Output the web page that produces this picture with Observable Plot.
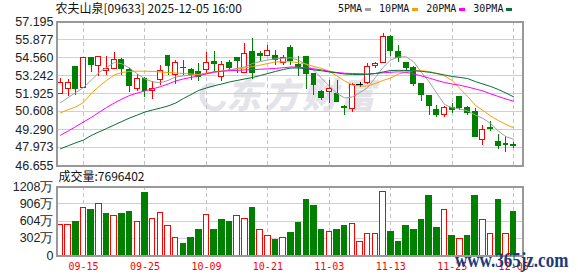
<!DOCTYPE html>
<html>
<head>
<meta charset="utf-8">
<script src="https://cdn.jsdelivr.net/npm/d3@7"></script>
<script src="https://cdn.jsdelivr.net/npm/@observablehq/plot@0.6"></script>
<style>
  html, body { margin: 0; padding: 0; background: #fff; }
  #chart { position: relative; width: 578px; height: 276px; overflow: hidden; background: #fff; }
  #chart > * { position: absolute; }
  #watermark { left: 226px; top: 72px; font-family: "Noto Sans CJK SC", sans-serif; font-size: 35px; line-height: 42px; font-weight: 900; font-style: italic; letter-spacing: 3px; color: #e3e3e9; white-space: nowrap; z-index: 0; }
  #logo { left: 200px; top: 82px; width: 16px; height: 20px; border: 5px solid #e3e3e9; border-right-color: transparent; border-radius: 50%; z-index: 0; transform: rotate(-30deg); }
  #legend { left: 338px; top: 3px; z-index: 2; display: flex; align-items: center; font: 10px/12px "DejaVu Sans Mono", monospace; color: #111; white-space: nowrap; }
  #legend .sw { display: inline-block; width: 6px; height: 3px; margin: 0 8px 0 3px; }
  #site { left: 455px; top: 250px; z-index: 3; font: bold 20px/20px "Liberation Serif", serif; color: #1c3a7a; transform: scaleX(0.85); transform-origin: 0 0; white-space: nowrap; }
</style>
</head>
<body>
<div id="chart"></div>
<script>
// ---------- data ----------
const stockName = "农夫山泉";
const stockCode = "09633";
const stamp = "2025-12-05 16:00";

const dates = ["09-10","09-11","09-12","09-15","09-16","09-17","09-18","09-19","09-22","09-23",
  "09-24","09-25","09-26","09-29","09-30","10-02","10-03","10-06","10-08","10-09",
  "10-10","10-13","10-14","10-15","10-16","10-17","10-20","10-21","10-22","10-23",
  "10-24","10-27","10-28","10-30","10-31","11-03","11-04","11-05","11-06","11-07",
  "11-10","11-11","11-12","11-13","11-14","11-17","11-18","11-19","11-20","11-21",
  "11-24","11-25","11-26","11-27","11-28","12-01","12-02","12-03","12-04","12-05"];

const open = [51.90,52.27,53.90,52.31,54.49,53.95,53.56,53.70,54.41,53.63,
  52.24,53.02,52.14,52.90,54.66,53.27,53.81,53.68,53.51,53.63,
  54.25,53.15,54.19,54.49,53.44,54.98,54.85,54.66,54.68,54.17,
  55.22,53.99,54.61,53.32,52.00,52.05,51.90,50.97,50.78,52.55,
  52.66,53.95,54.17,56.07,54.93,54.17,53.81,52.61,51.76,50.75,
  50.34,50.83,51.68,50.88,50.59,48.51,49.42,48.39,48.26,48.14];
const high = [53.02,52.95,53.92,54.56,54.54,54.66,54.61,54.93,54.49,53.75,
  53.34,53.07,52.83,53.95,54.73,54.32,54.32,53.75,54.12,54.90,
  55.02,54.25,54.36,54.49,55.61,55.95,54.98,55.42,55.05,54.68,
  55.42,54.61,54.61,53.39,52.17,52.88,52.85,51.02,52.66,52.70,
  54.12,54.17,56.32,56.15,55.42,54.17,53.88,52.61,51.76,51.02,
  50.97,51.19,51.73,50.95,50.83,49.56,49.86,48.92,48.76,48.32];
const low = [51.85,51.68,51.76,52.26,53.44,53.15,53.27,53.65,53.22,52.00,
  52.05,51.65,51.51,52.53,53.27,52.61,53.27,52.90,52.83,53.39,
  53.51,52.83,53.51,53.39,53.40,52.95,54.25,54.62,53.95,53.99,
  53.99,53.15,52.24,51.80,51.43,51.19,51.27,50.29,50.51,52.36,
  52.60,53.76,54.12,54.61,54.19,53.51,52.46,51.32,50.34,50.17,
  50.17,50.46,50.66,50.34,48.68,48.14,49.12,47.83,47.58,47.90];
const close = [52.71,52.73,52.29,54.49,54.00,54.61,53.70,54.36,53.70,52.46,
  53.02,52.09,52.29,53.59,53.95,54.19,53.76,53.27,53.10,54.19,
  54.12,53.99,53.76,54.32,54.85,53.39,54.66,55.05,54.41,54.49,
  54.29,53.88,53.32,52.53,51.63,52.29,51.32,50.90,52.53,52.55,
  53.88,54.05,56.07,55.05,54.54,53.81,52.61,51.80,51.02,50.34,
  50.83,50.70,50.83,50.51,48.76,49.29,49.31,48.07,48.14,48.07];

const ma5 = [51.25,51.63,52.00,52.36,52.90,53.46,53.83,54.19,54.10,53.79,
  53.35,52.99,52.78,52.71,52.88,53.13,53.22,53.27,53.29,53.35,
  53.46,53.57,53.65,53.76,53.87,54.12,54.27,54.38,54.47,54.50,
  54.54,54.36,54.05,53.61,53.04,52.47,51.93,51.60,51.67,52.00,
  52.36,53.10,53.83,54.38,54.60,54.61,54.23,53.46,52.78,51.93,
  51.12,50.88,50.79,50.65,50.35,50.10,49.73,49.18,48.76,48.58];
const ma10 = [50.51,50.75,50.94,51.27,51.93,52.44,52.88,53.28,53.46,53.54,
  53.56,53.56,53.54,53.50,53.46,53.43,53.39,53.35,53.32,53.43,
  53.51,53.57,53.65,53.72,53.79,53.90,54.00,54.12,54.23,54.25,
  54.25,54.17,54.08,53.90,53.76,53.54,53.21,52.84,52.55,52.47,
  52.47,52.66,52.88,53.06,53.35,53.50,53.61,53.59,53.54,53.39,
  53.21,52.88,52.29,51.71,51.07,50.68,50.28,49.95,49.66,49.42];
const ma20 = [48.87,49.18,49.51,49.84,50.17,50.54,50.90,51.23,51.52,51.78,
  51.96,52.12,52.26,52.42,52.62,52.84,52.99,53.10,53.22,53.37,
  53.51,53.55,53.59,53.62,53.65,53.67,53.70,53.73,53.76,53.81,
  53.87,53.85,53.79,53.73,53.65,53.54,53.46,53.41,53.39,53.37,
  53.35,53.39,53.44,53.48,53.51,53.48,53.35,53.21,53.06,52.88,
  52.73,52.62,52.53,52.40,52.26,52.11,51.90,51.71,51.52,51.36];
const ma30 = [47.88,48.10,48.32,48.52,48.85,49.11,49.36,49.62,49.88,50.13,
  50.35,50.57,50.72,50.86,51.01,51.23,51.56,51.85,52.15,52.33,
  52.49,52.62,52.77,52.88,52.99,53.10,53.24,53.39,53.54,53.68,
  53.79,53.79,53.73,53.65,53.59,53.50,53.43,53.35,53.32,53.32,
  53.33,53.39,53.50,53.61,53.62,53.61,53.59,53.55,53.48,53.39,
  53.28,53.17,53.10,53.02,52.80,52.62,52.44,52.22,51.96,51.68];

const volume = [5400000,5380000,5950000,8350000,7880000,9050000,7180000,6950000,7180000,7700000,
  5780000,10910000,6420000,7470000,5190000,3090000,1930000,2980000,4380000,7120000,
  4550000,6300000,5950000,6950000,6420000,8230000,4490000,3440000,2630000,3090000,
  3900000,5660000,9630000,8750000,4550000,4200000,4550000,5250000,5430000,2450000,
  3680000,3680000,11200000,4080000,2330000,5250000,4550000,6130000,10380000,4780000,
  7880000,3500000,2920000,3500000,10500000,6250000,3680000,9800000,3800000,7696402];

const priceTicks = [57.195,55.877,54.560,53.242,51.925,50.608,49.290,47.973,46.655];
const volumeTicks = [0,3020000,6040000,9060000,12080000];
const dateTicks = ["09-15","09-25","10-09","10-21","11-03","11-13","11-25","12-05"];

const maLabels = ["5PMA","10PMA","20PMA","30PMA"];
const maColors = ["#a0a0a0","#f5a000","#ff00ff","#0a6e36"];
const maSeries = [ma5, ma10, ma20, ma30];

// ---------- build ----------
const RED = "#ff0000", GREEN = "#008000";
const n = dates.length;
const rows = d3.range(n).map(i => ({i, date: dates[i], open: open[i], high: high[i], low: low[i], close: close[i], volume: volume[i]}));
const candleColor = r => r.close > r.open ? RED : r.close < r.open ? GREEN : "#000";
const volUp = r => r.i === 0 ? r.close >= r.open : r.close >= close[r.i - 1];
const tickIdx = dateTicks.map(d => dates.indexOf(d));
const xScale = {type: "linear", domain: [-0.52, 60.15], axis: null};
const crisp = {shapeRendering: "crispEdges"};
const svgStyle = {background: "transparent", overflow: "visible"};

const chart = document.getElementById("chart");

// watermark
const logo = document.createElement("div");
logo.id = "logo";
chart.appendChild(logo);
const wm = document.createElement("div");
wm.id = "watermark";
wm.textContent = "东方财富";
chart.appendChild(wm);

const mainPlot = Plot.plot({
  width: 578, height: 172,
  marginLeft: 56, marginRight: 56, marginTop: 21, marginBottom: 7,
  x: xScale,
  y: {domain: [priceTicks[priceTicks.length - 1], priceTicks[0]], axis: null},
  color: {type: "identity"},
  style: svgStyle,
  marks: [
    Plot.ruleY(priceTicks.slice(1, -1), {stroke: "#d0d0d0", ...crisp}),
    Plot.ruleX(tickIdx, {stroke: "#c4c4c4", strokeDasharray: "4,3", ...crisp}),
    Plot.ruleX(rows, {x: "i", y1: "low", y2: "high", stroke: candleColor, ...crisp}),
    Plot.rect(rows.filter(r => r.open !== r.close), {
      x1: r => r.i - 0.32, x2: r => r.i + 0.32, y1: "open", y2: "close",
      fill: r => r.close > r.open ? "#ffffff" : candleColor(r), stroke: candleColor, ...crisp
    }),
    Plot.ruleY(rows.filter(r => r.open === r.close), {
      y: "close", x1: r => r.i - 0.42, x2: r => r.i + 0.42, stroke: "#000", ...crisp
    }),
    ...maSeries.map((s, k) => Plot.line(s, {x: (d, i) => i, y: d => d, stroke: maColors[k], strokeWidth: 1})),
    Plot.frame({stroke: "#999", strokeWidth: 2, ...crisp}),
    Plot.text(priceTicks, {y: d => d, text: d => d.toFixed(3), frameAnchor: "left", dx: -3, textAnchor: "end",
      fontSize: 12.5, fontFamily: "Liberation Sans", fill: "#222"}),
    Plot.text([`${stockName}[${stockCode}] ${stamp}`], {frameAnchor: "top-left", dx: -1, dy: -12.5, lineAnchor: "middle",
      textAnchor: "start", fontSize: 12, fontFamily: "Noto Sans CJK SC", fill: "#111"})
  ]
});
mainPlot.style.left = "0px";
mainPlot.style.top = "0px";
mainPlot.style.zIndex = 1;
chart.appendChild(mainPlot);

// legend
const legend = document.createElement("div");
legend.id = "legend";
maLabels.forEach((lab, k) => {
  const t = document.createElement("span");
  t.textContent = lab;
  const sw = document.createElement("span");
  sw.className = "sw";
  sw.style.background = maColors[k];
  legend.appendChild(t);
  legend.appendChild(sw);
});
chart.appendChild(legend);

const volPlot = Plot.plot({
  width: 578, height: 106,
  marginLeft: 56, marginRight: 56, marginTop: 16, marginBottom: 21,
  x: xScale,
  y: {domain: [0, volumeTicks[volumeTicks.length - 1]], axis: null},
  color: {type: "identity"},
  style: svgStyle,
  marks: [
    Plot.ruleY(volumeTicks.slice(1, -1), {stroke: "#d0d0d0", ...crisp}),
    Plot.ruleX(tickIdx, {stroke: "#c4c4c4", strokeDasharray: "4,3", ...crisp}),
    Plot.rect(rows, {
      x1: r => r.i - 0.36, x2: r => r.i + 0.36, y1: 0, y2: "volume",
      fill: r => volUp(r) ? "#ffffff" : GREEN, stroke: r => volUp(r) ? RED : GREEN, ...crisp
    }),
    Plot.frame({stroke: "#999", strokeWidth: 2, ...crisp}),
    Plot.text(volumeTicks, {y: d => d, text: d => d === 0 ? "0" : (d / 10000) + "万", frameAnchor: "left", dx: -3,
      textAnchor: "end", fontSize: 12.5, fontFamily: "Liberation Sans", fill: "#222"}),
    Plot.text(tickIdx, {x: d => d, text: d => dates[d], frameAnchor: "bottom", dy: 11, lineAnchor: "middle",
      fill: RED, fontSize: 10, fontFamily: "DejaVu Sans Mono"}),
    Plot.text([`成交量:${volume[n - 1]}`], {frameAnchor: "top-left", dx: 2, dy: -9, lineAnchor: "middle",
      textAnchor: "start", fontSize: 12, fontFamily: "Noto Sans CJK SC", fill: "#111"})
  ]
});
volPlot.style.left = "0px";
volPlot.style.top = "170px";
volPlot.style.zIndex = 1;
chart.appendChild(volPlot);

const site = document.createElement("div");
site.id = "site";
site.textContent = "www.365jz.com";
chart.appendChild(site);
</script>
</body>
</html>
